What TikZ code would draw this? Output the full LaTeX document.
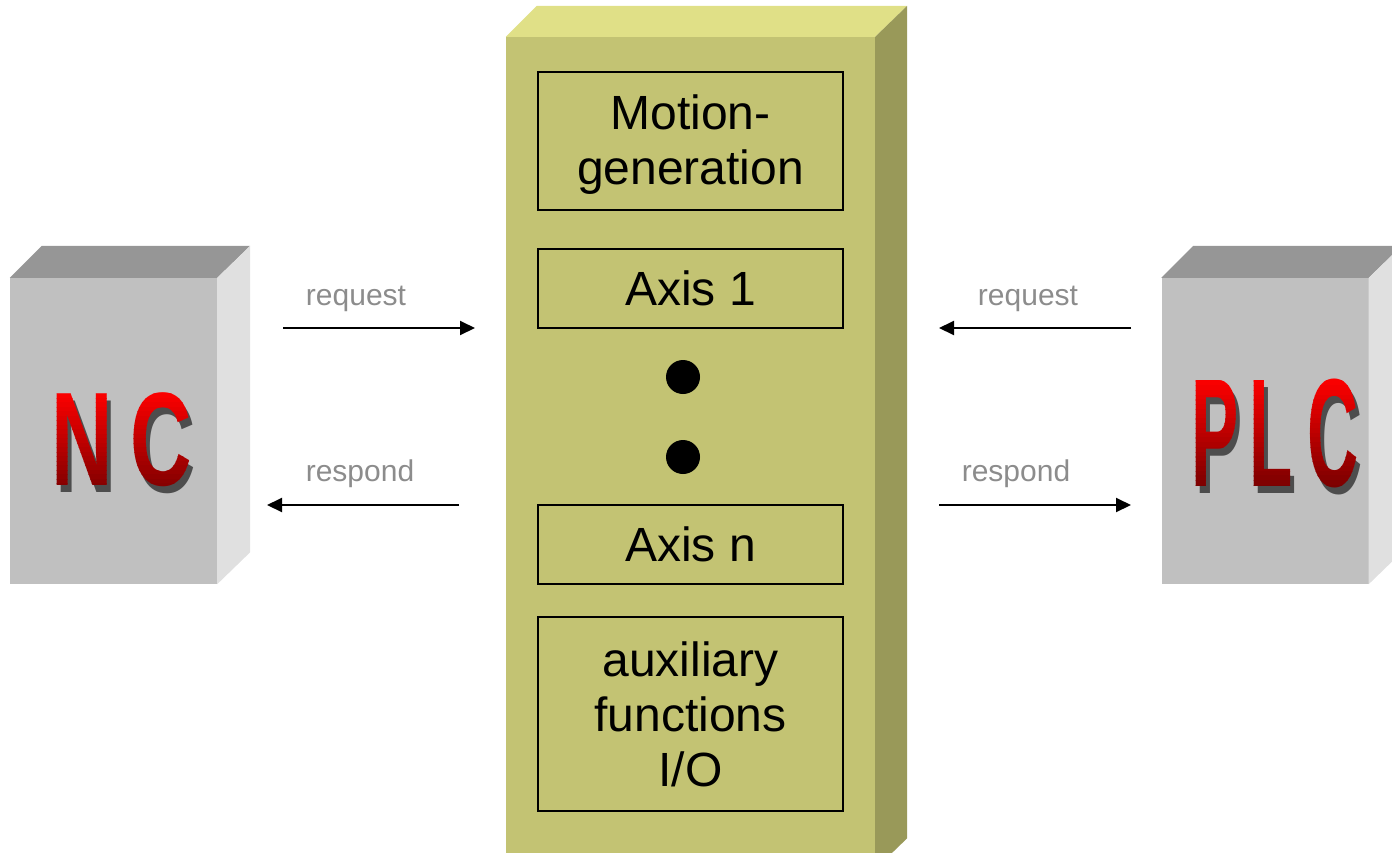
\documentclass[tikz,border=0pt]{standalone}
\usepackage{fontspec}
\usepackage{graphicx}
\setmainfont{Liberation Sans}
\usetikzlibrary{arrows.meta}

\definecolor{unitfront}{HTML}{C0C0C0}
\definecolor{unittop}{HTML}{969696}
\definecolor{unitside}{HTML}{E0E0E0}
\definecolor{ctrlfront}{HTML}{C3C373}
\definecolor{ctrltop}{HTML}{E0E087}
\definecolor{ctrlside}{HTML}{999959}
\definecolor{msggray}{HTML}{8C8C8C}
\definecolor{letterdark}{HTML}{7A0000}
\definecolor{lettershadow}{HTML}{4D4D4D}

\newcommand{\bigcaps}[3]{\fontsize{#1}{#1}\selectfont\bfseries\scalebox{#2}[1]{#3}}
\newcommand{\nctext}{\bigcaps{133}{0.64}{N\hspace{27pt}C}}
\newcommand{\plctext}{\bigcaps{154}{0.46}{P\hspace{24pt}L\hspace{30pt}C}}

\tikzset{
  unit/.style={fill=unitfront, minimum width=207pt, minimum height=306pt, inner sep=0pt},
  inbox/.style={draw, line width=2pt, minimum width=305pt, inner sep=0pt, align=center,
    font=\fontsize{48}{55}\selectfont},
  dot/.style={circle, fill=black, minimum size=34pt, inner sep=0pt},
  msg/.style={text=msggray, font=\fontsize{30}{36}\selectfont, anchor=base, inner sep=0pt},
  link/.style={line width=2pt, -{Triangle[length=15pt,width=14pt]}}
}

\begin{document}
\begin{tikzpicture}[x=1pt,y=-1pt]
  \useasboundingbox (0,0) rectangle (1392,852);

  % NC unit
  \node[unit] (nc) at (113.5,431) {};
  \fill[unittop] (nc.north west) -- ++(32,-32) -- ([shift={(33,-32)}]nc.north east) -- (nc.north east) -- cycle;
  \fill[unitside] (nc.north east) -- ++(33,-32) -- ([shift={(33,-32)}]nc.south east) -- (nc.south east) -- cycle;
  \node[text=lettershadow, inner sep=0pt] (ncshadow) at (126,447) {\nctext};
  \foreach \k [evaluate=\k as \mix using {100-\k*100/23}] in {0,...,23} {
    \begin{scope}
      \clip (40,{389+\k*4.5}) rectangle (205,{389.4+(\k+1)*4.5});
      \node[text=red!\mix!letterdark, inner sep=0pt] (ncband\k) at (122,440) {\nctext};
    \end{scope}
  }

  % PLC unit
  \node[unit] (plc) at (1265,431) {};
  \fill[unittop] (plc.north west) -- ++(32,-32) -- ([shift={(33,-32)}]plc.north east) -- (plc.north east) -- cycle;
  \fill[unitside] (plc.north east) -- ++(33,-32) -- ([shift={(33,-32)}]plc.south east) -- (plc.south east) -- cycle;
  \node[text=lettershadow, inner sep=0pt] (plcshadow) at (1279,440) {\plctext};
  \foreach \k [evaluate=\k as \mix using {100-\k*100/23}] in {0,...,23} {
    \begin{scope}
      \clip (1170,{376+\k*4.75}) rectangle (1380,{376.4+(\k+1)*4.75});
      \node[text=red!\mix!letterdark, inner sep=0pt] (plcband\k) at (1275,433) {\plctext};
    \end{scope}
  }

  % controller column
  \node[fill=ctrlfront, minimum width=369pt, minimum height=832pt, inner sep=0pt] (ctrl) at (690.5,453) {};
  \fill[ctrltop] (ctrl.north west) -- ++(31,-31) -- ([shift={(32,-31)}]ctrl.north east) -- (ctrl.north east) -- cycle;
  \fill[ctrlside] (ctrl.north east) -- ++(32,-31) -- ([shift={(32,-31)}]ctrl.south east) -- (ctrl.south east) -- cycle;

  \node[inbox, minimum height=138pt] (motion) at (690.5,141) {};
  \node[align=center, inner sep=0pt, font=\fontsize{48}{55}\selectfont] (motiontext) at (690.5,145) {Motion-\\generation};
  \node[inbox, minimum height=79pt] (axisone) at (690.5,288.5) {Axis 1};
  \node[dot] (dotone) at (683,377) {};
  \node[dot] (dottwo) at (683,457) {};
  \node[inbox, minimum height=79pt] (axisn) at (690.5,544.5) {Axis n};
  \node[inbox, minimum height=194pt] (aux) at (690.5,714) {auxiliary\\functions\\I/O};

  % messages
  \coordinate (ncreq) at (283,328);
  \coordinate (ctrlreqL) at (475,328);
  \coordinate (ctrlresL) at (459,505);
  \coordinate (ncres) at (267,505);
  \coordinate (plcreq) at (1131,328);
  \coordinate (ctrlreqR) at (939,328);
  \coordinate (ctrlresR) at (939,505);
  \coordinate (plcres) at (1131,505);
  \draw[link] (ncreq) -- (ctrlreqL);
  \draw[link] (ctrlresL) -- (ncres);
  \draw[link] (plcreq) -- (ctrlreqR);
  \draw[link] (ctrlresR) -- (plcres);
  \node[msg] (reqL) at (356,305) {request};
  \node[msg] (resL) at (360,481) {respond};
  \node[msg] (reqR) at (1028,305) {request};
  \node[msg] (resR) at (1016,481) {respond};
\end{tikzpicture}
\end{document}
